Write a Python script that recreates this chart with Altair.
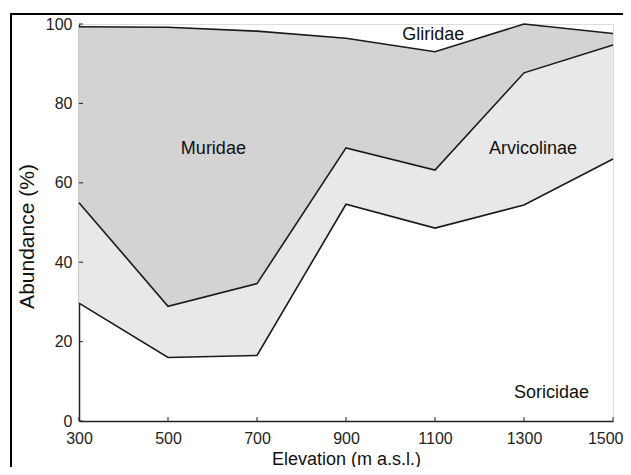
import altair as alt
import pandas as pd

# Elevation steps (m a.s.l.)
elevation = [300, 500, 700, 900, 1100, 1300, 1500]
# Cumulative upper boundaries (%) of each group
soricidae_top = [29.7, 16.0, 16.5, 54.6, 48.6, 54.4, 66.0]
arvicolinae_top = [55.0, 28.9, 34.6, 68.8, 63.2, 87.7, 94.7]
muridae_top = [99.3, 99.2, 98.2, 96.4, 93.0, 100.0, 97.6]

x_ticks = [300, 500, 700, 900, 1100, 1300, 1500]
y_ticks = [0, 20, 40, 60, 80, 100]

label_names = ["Gliridae", "Muridae", "Arvicolinae", "Soricidae"]
label_x = [1096, 602, 1320, 1362]
label_y = [96.0, 67.2, 67.2, 5.8]

FONT = "Liberation Sans"
W, H = 534, 397

df = pd.DataFrame({
    "elev": elevation,
    "sor": soricidae_top,
    "arv": arvicolinae_top,
    "mur": muridae_top,
})

xscale = alt.Scale(domain=[300, 1500], nice=False, zero=False)
yscale = alt.Scale(domain=[0, 100], nice=False)

xaxis = alt.Axis(values=x_ticks, format="d", title="Elevation (m a.s.l.)", grid=False,
                 ticks=False, tickSize=0, labelPadding=9, labelFlush=False,
                 labelAlign=alt.condition("datum.value == 1500", alt.value("right"), alt.value("center")),
                 labelOffset=alt.condition("datum.value == 1500", alt.value(10), alt.value(0)),
                 labelOverlap=False, labelFontSize=16, labelFont=FONT,
                 labelColor="#222", domainColor="#222", domainWidth=1.5,
                 titleFont=FONT, titleFontSize=18, titleFontWeight="normal",
                 titleColor="#111", titleBaseline="alphabetic",
                 titleY=43, titleX=W / 2)
yaxis = alt.Axis(values=y_ticks, format="d", title="Abundance (%)", grid=False,
                 ticks=False, tickSize=0, labelPadding=7,
                 labelOverlap=False, labelFontSize=16, labelFont=FONT,
                 labelColor="#222", domainColor="#222", domainWidth=1.5,
                 titleFont=FONT, titleFontSize=21, titleFontWeight="normal",
                 titleColor="#111", titleBaseline="alphabetic",
                 titleX=-46, titleY=212, titleAngle=-90, titleAlign="center")

base = alt.Chart(df)

mur_area = base.mark_area(color="#d3d3d3", opacity=1).encode(
    x=alt.X("elev:Q", scale=xscale, axis=xaxis),
    y=alt.Y("arv:Q", scale=yscale, axis=yaxis),
    y2="mur:Q",
)
arv_area = base.mark_area(color="#e8e8e8", opacity=1).encode(
    x=alt.X("elev:Q", scale=xscale),
    y=alt.Y("sor:Q", scale=yscale),
    y2="arv:Q",
)

def boundary(col):
    return base.mark_line(color="#1a1a1a", strokeWidth=1.6).encode(
        x=alt.X("elev:Q", scale=xscale),
        y=alt.Y(f"{col}:Q", scale=yscale),
    )

xt = alt.Chart(pd.DataFrame({"t": x_ticks})).mark_rule(color="#222", strokeWidth=1).encode(
    x=alt.X("t:Q", scale=xscale), y=alt.value(H), y2=alt.value(H - 4))
yt = alt.Chart(pd.DataFrame({"t": y_ticks})).mark_rule(color="#222", strokeWidth=1).encode(
    y=alt.Y("t:Q", scale=yscale), x=alt.value(0), x2=alt.value(4))

labels = alt.Chart(pd.DataFrame({"name": label_names, "lx": label_x, "ly": label_y})).mark_text(
    font=FONT, fontSize=18, color="#111", align="center", baseline="alphabetic"
).encode(
    x=alt.X("lx:Q", scale=xscale),
    y=alt.Y("ly:Q", scale=yscale),
    text="name:N",
)

one = pd.DataFrame({"a": [0]})
frame_top = alt.Chart(one).mark_rule(color="#000", strokeWidth=2).encode(
    x=alt.value(-68), x2=alt.value(560), y=alt.value(-10))
frame_left = alt.Chart(one).mark_rule(color="#000", strokeWidth=2).encode(
    x=alt.value(-68), y=alt.value(-11), y2=alt.value(450))

chart = alt.layer(
    mur_area, arv_area, boundary("sor"), boundary("arv"), boundary("mur"),
    xt, yt, labels, frame_top, frame_left,
).properties(
    width=W, height=H,
    autosize=alt.AutoSizeParams(type="none"),
    padding={"left": 71, "top": 16, "right": 10, "bottom": 46},
).configure_view(
    stroke="#333", strokeWidth=1.5
).configure(background="white")

chart.save("out.html", embed_options={"renderer": "svg", "actions": False})
